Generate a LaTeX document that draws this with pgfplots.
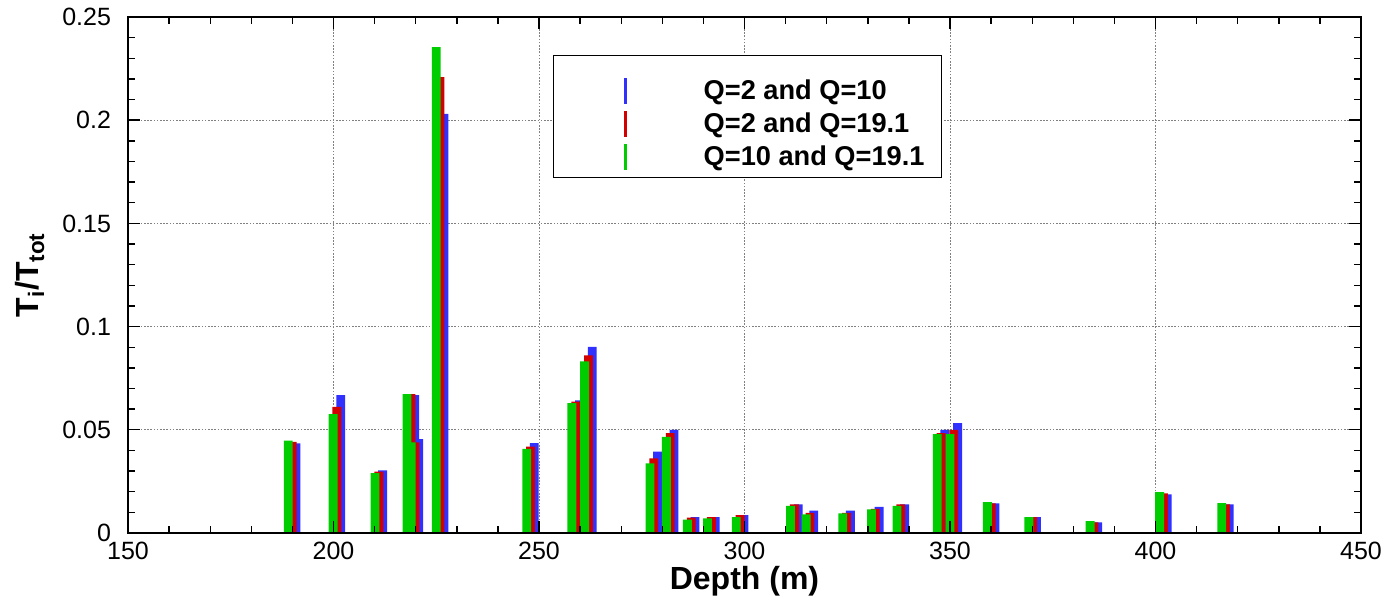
\documentclass[border=0pt]{standalone}
\usepackage{pgfplots}
\pgfplotsset{compat=1.18}
\usepackage{pgfplotstable}
\usepackage{fontspec}
\setmainfont{Liberation Sans}
\definecolor{qblue}{RGB}{48,48,255}
\definecolor{qred}{RGB}{210,0,0}
\definecolor{qgreen}{RGB}{0,205,0}

% d = depth (m) of the red bar; G, R, B = T_i/T_tot
\pgfplotstableread{
d      G      R      B
189.93 0.0447 0.0442 0.0434
200.83 0.0576 0.0611 0.0668
211.03 0.0290 0.0297 0.0303
218.83 0.0673 0.0673 0.0668
219.83 0.0439 0.0439 0.0455
225.93 0.2354 0.2209 0.2031
247.93 0.0407 0.0418 0.0436
258.93 0.0629 0.0636 0.0642
262.03 0.0831 0.0860 0.0902
277.93 0.0337 0.0362 0.0394
281.93 0.0466 0.0484 0.0500
287.03 0.0065 0.0074 0.0077
291.93 0.0071 0.0077 0.0077
298.93 0.0077 0.0086 0.0086
312.13 0.0132 0.0139 0.0139
315.93 0.0090 0.0097 0.0108
324.83 0.0095 0.0097 0.0108
331.83 0.0115 0.0117 0.0126
338.03 0.0132 0.0139 0.0139
347.83 0.0479 0.0484 0.0500
350.93 0.0479 0.0500 0.0532
360.03 0.0149 0.0144 0.0144
370.13 0.0077 0.0077 0.0077
385.03 0.0058 0.0052 0.0052
401.93 0.0198 0.0192 0.0187
417.03 0.0145 0.0139 0.0139
}\bars

\begin{document}
\begin{tikzpicture}
\begin{axis}[
  at={(64pt,32pt)}, anchor=south west,
  scale only axis, width=616.5pt, height=258pt,
  xmin=150, xmax=450, ymin=0, ymax=0.25,
  xtick={150,200,250,300,350,400,450},
  xticklabels={150,200,250,300,350,400,450},
  ytick={0,0.05,0.1,0.15,0.2,0.25},
  yticklabels={0,0.05,0.1,0.15,0.2,0.25},
  minor x tick num=4, minor y tick num=4,
  tick align=inside,
  major tick length=6pt, minor tick length=3.5pt,
  every tick/.style={black, line width=0.7pt},
  axis line style={line width=1.2pt},
  set layers, axis on top,
  grid=major,
  major grid style={color=gray, dash pattern=on 0.8pt off 0.8pt, line width=0.5pt, /pgfplots/on layer=axis background},
  tick label style={font=\fontsize{12.5}{14}\selectfont},
  yticklabel style={xshift=-5pt},
  xticklabel style={yshift=-1pt},
  xlabel={Depth (m)},
  ylabel={T\textsubscript{i}/T\textsubscript{tot}},
  every axis x label/.style={at={(axis description cs:0.5,-0.093)}, anchor=center,
    font=\bfseries\fontsize{16}{19}\selectfont},
  every axis y label/.style={at={(axis description cs:-0.0795,0.5)}, rotate=90, anchor=center,
    font=\bfseries\fontsize{16}{19}\selectfont},
  legend style={at={(0.3447,0.9264)}, anchor=north west, draw=black, line width=0.7pt,
    inner xsep=0pt, inner ysep=0pt, nodes={inner sep=0pt, text depth=0.15em},
    font=\bfseries\fontsize{13.6}{16}\selectfont},
  legend cell align=left,
]
\addplot[ybar, bar width=2.15, bar shift=0.93, fill=qblue, draw=none,
  legend image code/.code={\path[draw=none, fill=none] (-36pt,-8.25pt) rectangle (39pt,17.5pt);
    \draw[line width=1.65pt, draw=qblue, fill=none] (0pt,-6.5pt) -- (0pt,6.5pt);}]
  table[x=d, y=B] {\bars};
\addlegendentry{\makebox[119pt][l]{Q=2 and Q=10}}
\addplot[ybar, bar width=2.15, bar shift=0, fill=qred, draw=none,
  legend image code/.code={\path[draw=none, fill=none] (-36pt,-8.25pt) rectangle (39pt,8.25pt);
    \draw[line width=1.65pt, draw=qred, fill=none] (0pt,-6.5pt) -- (0pt,6.5pt);}]
  table[x=d, y=R] {\bars};
\addlegendentry{\makebox[119pt][l]{Q=2 and Q=19.1}}
\addplot[ybar, bar width=2.15, bar shift=-0.93, fill=qgreen, draw=none,
  legend image code/.code={\path[draw=none, fill=none] (-36pt,-10.5pt) rectangle (39pt,8.25pt);
    \draw[line width=1.65pt, draw=qgreen, fill=none] (0pt,-6.5pt) -- (0pt,6.5pt);}]
  table[x=d, y=G] {\bars};
\addlegendentry{\makebox[119pt][l]{Q=10 and Q=19.1}}
\end{axis}
\path (0pt,0pt) (694.5pt,298.5pt);
\end{tikzpicture}
\end{document}
